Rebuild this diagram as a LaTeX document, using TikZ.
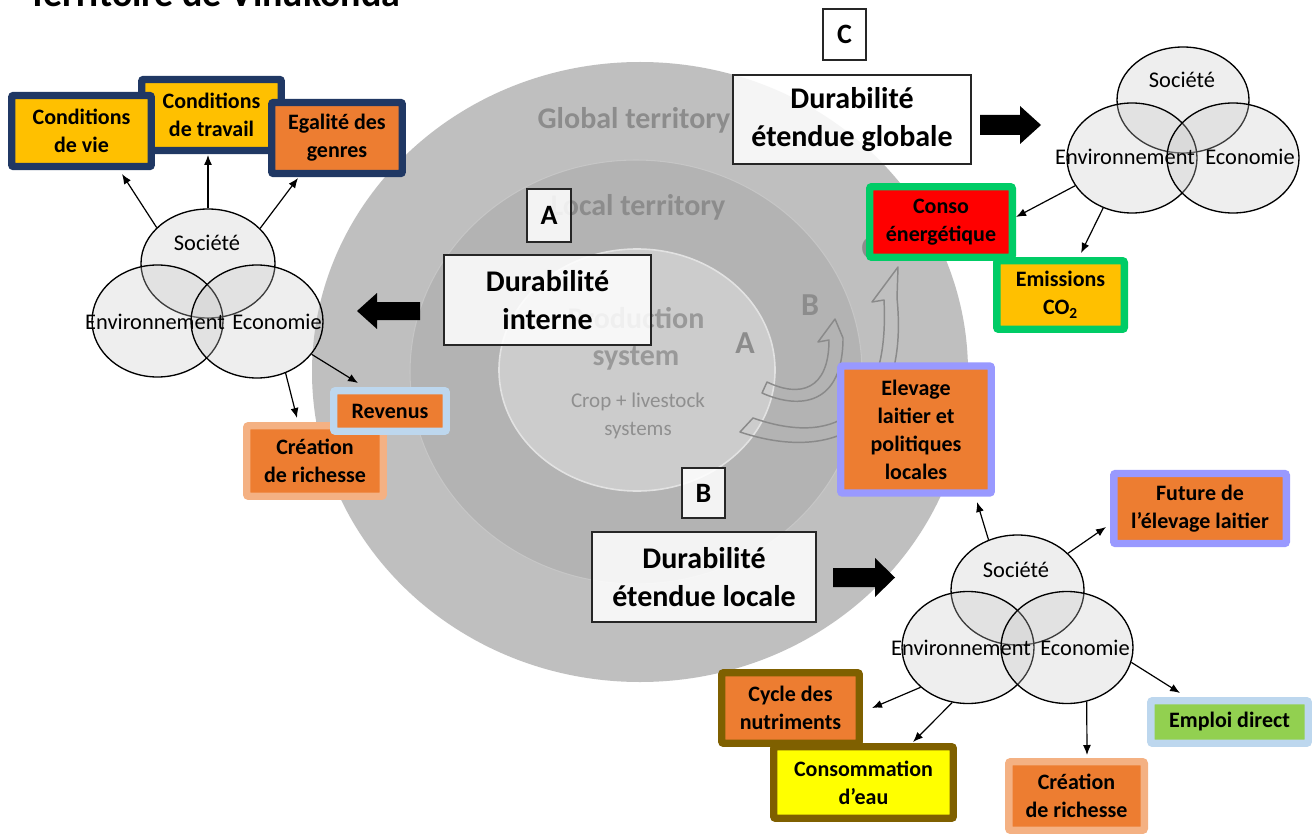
\documentclass[tikz,border=0pt]{standalone}
\usepackage{fontspec}
\setmainfont{Carlito}
\usetikzlibrary{shapes.geometric,arrows.meta}
\definecolor{navy}{HTML}{203864}
\definecolor{gold}{HTML}{FFC000}
\definecolor{orng}{HTML}{ED7D31}
\definecolor{lblue}{HTML}{BDD7EE}
\definecolor{lorng}{HTML}{F4B183}
\definecolor{grn}{HTML}{00CC66}
\definecolor{lav}{HTML}{9999FF}
\definecolor{brwn}{HTML}{7F6000}
\definecolor{lgreen}{HTML}{92D050}
\definecolor{yel}{HTML}{FFFF00}
\definecolor{ringA}{HTML}{BFBFBF}
\definecolor{ringB}{HTML}{B3B3B3}
\definecolor{ringBl}{HTML}{C6C6C6}
\definecolor{ringC}{HTML}{CCCCCC}
\definecolor{ringCl}{HTML}{E2E2E2}
\definecolor{ringtxt}{HTML}{8C8C8C}
\definecolor{prodtxt}{HTML}{999999}
\definecolor{croptxt}{HTML}{8F8F8F}
\definecolor{curvcol}{HTML}{8A8A8A}
\definecolor{vennf}{HTML}{C8C8C8}
\newcommand\bxf{\fontsize{16.5}{21}\selectfont\bfseries}
\newcommand\dbf{\fontsize{22.5}{28.5}\selectfont\bfseries}
\newcommand\vnf{\fontsize{16.8}{20}\selectfont}
\newcommand\lbf{\fontsize{21}{24}\selectfont\bfseries}
\newcommand\rgf{\fontsize{22.5}{27.75}\selectfont\bfseries}
\newcommand\crf{\fontsize{15.75}{21}\selectfont}
\newcommand\abf{\fontsize{24}{28}\selectfont\bfseries}
\tikzset{
  cbox/.style n args={4}{draw=#1, fill=#2, line width=5.6pt, rounded corners=1.5pt,
    minimum width={#3*0.75pt}, minimum height={#4*0.75pt}, inner sep=0pt,
    align=center, font=\bxf, text=black},
  dbox/.style 2 args={draw=black!85, line width=1.1pt, fill=white, fill opacity=0.85,
    text opacity=1, minimum width={#1*0.75pt}, minimum height={#2*0.75pt},
    inner sep=0pt, align=center, font=\dbf},
  lbox/.style 2 args={draw=black!85, line width=1.1pt, fill=white, fill opacity=0.85,
    text opacity=1, minimum width={#1*0.75pt}, minimum height={#2*0.75pt},
    inner sep=0pt, font=\lbf},
  venn/.style 2 args={ellipse, draw=black, line width=1pt, fill=vennf, fill opacity=0.3,
    minimum width={#1*0.75pt}, minimum height={#2*0.75pt}, inner sep=0pt},
  vtxt/.style={font=\vnf, inner sep=0pt},
  conn/.style={draw=black, line width=0.9pt, -{Latex[length=7.5pt,width=6pt]}},
  curv/.style={draw=curvcol, line width=1.1pt, line join=round},
  blk/.style={fill=black}
}
\begin{document}
\begin{tikzpicture}[x=0.75pt,y=-0.75pt]
\useasboundingbox (0,0) rectangle (1312,834);
\clip (0,0) rectangle (1312,834);
\fill[white] (0,0) rectangle (1312,834);

% title (cut by the top edge)
\node[anchor=base west, inner sep=0pt, font=\fontsize{28.5}{30}\selectfont\bfseries] (title) at (28,7) {Territoire de Vinukonda};

% territory rings
\fill[ringA] (640,372) ellipse [x radius=246pt, y radius=232.5pt];
\filldraw[fill=ringB, draw=ringBl, line width=0.8pt] (636,372) ellipse [x radius=169.5pt, y radius=159pt];
\filldraw[fill=ringC, draw=ringCl, line width=1.2pt] (637,370) ellipse [x radius=103.5pt, y radius=90.75pt];

\node[font=\rgf, text=ringtxt] (glob) at (634,120) {Global territory};
\node[font=\rgf, text=ringtxt] (loc) at (638,207) {Local territory};
\node[font=\rgf, text=prodtxt, align=center] (prod) at (636,339) {Production\\system};
\node[font=\crf, text=croptxt, align=center] (crop) at (638,416) {Crop + livestock\\systems};
\node[font=\abf, text=ringtxt] (la) at (745,343) {A};
\node[font=\abf, text=ringtxt] (lb) at (810,305) {B};
\node[font=\abf, text=ringtxt] (lc) at (870,248) {C};

% curved hollow arrows
\draw[curv] (767,382) .. controls (800,398) and (829,390) .. (829,340) -- (818,342) -- (835,319) -- (843,338) .. controls (843,405) and (800,410) .. (762,393) -- cycle;
\draw[curv] (753,418) .. controls (830,445) and (890,420) .. (884,300) -- (872,302) -- (898,267) -- (897,298) .. controls (910,430) and (830,462) .. (740,432) -- cycle;

% sustainability boxes
\node[dbox={207}{90}] (dint) at (547.5,300) {Durabilité\\interne};
\node[dbox={238}{89}] (dglob) at (852,119.5) {Durabilité\\étendue globale};
\node[dbox={224}{90}] (dloc) at (704,577) {Durabilité\\étendue locale};
\node[lbox={44}{53}] (bA) at (549,215.5) {A};
\node[lbox={43}{50}] (bB) at (703.5,493) {B};
\node[lbox={43}{51}] (bC) at (844.5,34.5) {C};

% block arrows
\fill[blk] (420,302) -- (377,302) -- (377,293) -- (357,311) -- (377,329) -- (377,320) -- (420,320) -- cycle;
\fill[blk] (980,115) -- (1020,115) -- (1020,106) -- (1041,125) -- (1020,144) -- (1020,135) -- (980,135) -- cycle;
\fill[blk] (833,568) -- (875,568) -- (875,558) -- (895,577.5) -- (875,597) -- (875,587) -- (833,587) -- cycle;

% Venn left
\node[venn={134}{109}] (socL) at (208,263.5) {};
\node[venn={131}{112}] (envL) at (157.5,321) {};
\node[venn={132}{113}] (ecoL) at (257,321.5) {};
\node[vtxt] (tsocL) at (207,243) {Société};
\node[vtxt] (tenvL) at (155,322) {Environnement};
\node[vtxt] (tecoL) at (277,322) {Economie};

% Venn top right
\node[venn={132}{106}] (socT) at (1183,100) {};
\node[venn={130}{110}] (envT) at (1132,158) {};
\node[venn={132}{110}] (ecoT) at (1233,158) {};
\node[vtxt] (tsocT) at (1182,80) {Société};
\node[vtxt] (tenvT) at (1125,157) {Environnement};
\node[vtxt] (tecoT) at (1250,157) {Economie};

% Venn bottom right
\node[venn={133}{110}] (socB) at (1017.5,590) {};
\node[venn={132}{112}] (envB) at (968,647.5) {};
\node[venn={132}{112}] (ecoB) at (1067,647.5) {};
\node[vtxt] (tsocB) at (1016,570) {Société};
\node[vtxt] (tenvB) at (961,648) {Environnement};
\node[vtxt] (tecoB) at (1085,648) {Economie};

% arrow tips
\coordinate (tL1) at (122,174);
\coordinate (tL2) at (208,155);
\coordinate (tL3) at (298,178);
\coordinate (tL4) at (358,383);
\coordinate (tL5) at (297,418);
\coordinate (tT1) at (1016,217);
\coordinate (tT2) at (1081,253);
\coordinate (tB1) at (977,502);
\coordinate (tB2) at (1106,527);
\coordinate (tB3) at (872,708);
\coordinate (tB4) at (913,742);
\coordinate (tB5) at (1087,755);
\coordinate (tB6) at (1180,693);

\draw[conn] (socL.145) -- (tL1);
\draw[conn] (socL.90) -- (tL2);
\draw[conn] (socL.34) -- (tL3);
\draw[conn] (ecoL.-31) -- (tL4);
\draw[conn] (ecoL.-61.5) -- (tL5);
\draw[conn] (envT.206) -- (tT1);
\draw[conn] (envT.240) -- (tT2);
\draw[conn] (socB.120) -- (tB1);
\draw[conn] (socB.36) -- (tB2);
\draw[conn] (envB.220) -- (tB3);
\draw[conn] (envB.254) -- (tB4);
\draw[conn] (ecoB.290) -- (tB5);
\draw[conn] (ecoB.347) -- (tB6);

% indicator boxes
\node[cbox={navy}{gold}{139.5}{71}] (trav) at (211.5,115) {Conditions\\de travail};
\node[cbox={navy}{gold}{139.5}{71}] (vie) at (81.5,131) {Conditions\\de vie};
\node[cbox={navy}{orng}{130.5}{71}] (egal) at (337,138) {Egalité des\\genres};
\node[cbox={lorng}{orng}{136.5}{70.5}] (creaL) at (315,461) {Création\\de richesse};
\node[cbox={lblue}{orng}{112.5}{40.5}] (rev) at (390,411) {Revenus};
\node[cbox={grn}{red}{142.5}{70.5}] (conso) at (941,222) {Conso\\énergétique};
\node[cbox={grn}{gold}{127.5}{68.5}] (emis) at (1060.5,295) {Emissions\\CO\textsubscript{2}};
\node[cbox={lav}{orng}{150.5}{127}] (elev) at (916,429.5) {Elevage\\laitier et\\politiques\\locales};
\node[cbox={lav}{orng}{172.5}{70}] (fut) at (1200,508.5) {Future de\\l’élevage laitier};
\node[cbox={lblue}{lgreen}{157.5}{42.5}] (empl) at (1229.5,722) {Emploi direct};
\node[cbox={lorng}{orng}{135.5}{68.5}] (creaR) at (1076.5,796) {Création\\de richesse};
\node[cbox={brwn}{orng}{137.5}{70.5}] (cycl) at (790.5,708) {Cycle des\\nutriments};
\node[cbox={brwn}{yel}{179.5}{71.5}] (ceau) at (863.5,782.5) {Consommation\\d’eau};
\end{tikzpicture}
\end{document}
